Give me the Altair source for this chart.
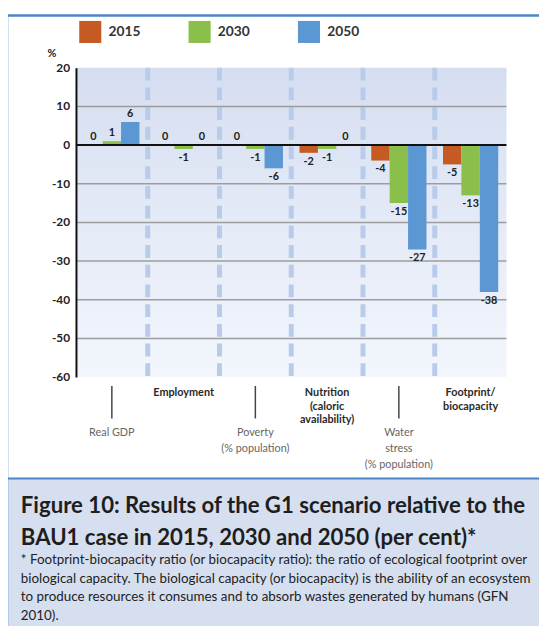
import altair as alt
import pandas as pd

# ---------------- data ----------------
categories = ["Real GDP", "Employment", "Poverty", "Nutrition", "Water stress", "Footprint/biocapacity"]
category_lines = [
    ["Real GDP"],
    ["Employment"],
    ["Poverty", "(% population)"],
    ["Nutrition", "(caloric", "availability)"],
    ["Water", "stress", "(% population)"],
    ["Footprint/", "biocapacity"],
]
years = ["2015", "2030", "2050"]
values_2015 = [0, 0, 0, -2, -4, -5]
values_2030 = [1, -1, -1, -1, -15, -13]
values_2050 = [6, 0, -6, 0, -27, -38]
year_colors = ["#c55a22", "#8bbf4c", "#5b97d2"]
gridline_values = [10, -10, -20, -30, -40, -50]
y_ticks = [20, 10, 0, -10, -20, -30, -40, -50, -60]
title_lines = [
    "Figure 10: Results of the G1 scenario relative to the",
    "BAU1 case in 2015, 2030 and 2050 (per cent)*",
]
footnote_lines = [
    "* Footprint-biocapacity ratio (or biocapacity ratio): the ratio of ecological footprint over",
    "biological capacity. The biological capacity (or biocapacity) is the ability of an ecosystem",
    "to produce resources it consumes and to absorb wastes generated by humans (GFN",
    "2010).",
]

rows = []
for i, c in enumerate(categories):
    for y, vals in zip(years, [values_2015, values_2030, values_2050]):
        rows.append({"category": c, "year": y, "value": vals[i]})
df = pd.DataFrame(rows)

W, H = 437, 314
FONT = "Lato"
BORDER = "#4a86c6"

x_enc = alt.X("category:N", sort=categories,
              scale=alt.Scale(domain=categories, paddingInner=0, paddingOuter=0), axis=None)
xo_enc = alt.XOffset("year:N", sort=years,
                     scale=alt.Scale(domain=years, paddingInner=0, paddingOuter=0.45))
y_scale = alt.Scale(domain=[-60, 20], nice=False, zero=False)
y_axis = alt.Axis(values=y_ticks, grid=False, ticks=False, domain=True, domainColor="#111111",
                  domainWidth=2, labels=False,
                  title="%", titleAngle=0,
                  titleX=-25, titleY=-14, titleAlign="center", titleBaseline="middle",
                  titleFontSize=11, titleFontWeight="bold", titleColor="#222222",
                  titleFont=FONT, zindex=1)
y_enc = alt.Y("value:Q", scale=y_scale, axis=y_axis)

empty = alt.Data(values=[{}])

gradient = alt.LinearGradient(
    gradient="linear", x1=0, y1=0, x2=0, y2=1,
    stops=[alt.GradientStop(offset=0, color="#d5def1"),
           alt.GradientStop(offset=1, color="#f3f6fc")],
)
bg = alt.Chart(empty).mark_rect(fill=gradient).encode(
    x=alt.value(0), x2=alt.value(W), y=alt.value(0), y2=alt.value(H))

sep_data = alt.Data(values=[{"category": c} for c in categories[1:]])
separators = alt.Chart(sep_data).mark_rule(
    color="#b8cbea", strokeWidth=5, strokeDash=[13, 7]).encode(
    x=alt.X("category:N", sort=categories, bandPosition=0,
            scale=alt.Scale(domain=categories, paddingInner=0, paddingOuter=0), axis=None),
    y=alt.value(0), y2=alt.value(H))

grid_data = alt.Data(values=[{"value": v} for v in gridline_values])
grid = alt.Chart(grid_data).mark_rule(color="#9d9d9d", strokeWidth=1.5).encode(
    y=y_enc, x=alt.value(0), x2=alt.value(W))

bars = alt.Chart(df).mark_bar().encode(
    x=x_enc, xOffset=xo_enc, y=y_enc, y2=alt.datum(0),
    color=alt.Color("year:N", sort=years,
                    scale=alt.Scale(domain=years, range=year_colors),
                    legend=alt.Legend(orient="none", legendX=3, legendY=-48, direction="horizontal",
                                      title=None, symbolType="square", symbolSize=500,
                                      symbolStrokeWidth=0, symbolOpacity=1,
                                      labelFontSize=14, labelFont=FONT, labelFontWeight="bold",
                                      labelColor="#333333", labelOffset=7, columnPadding=48,
                                      padding=0)),
)

zero_line = alt.Chart(alt.Data(values=[{"value": 0}])).mark_rule(
    color="#111111", strokeWidth=2).encode(
    y=y_enc, x=alt.value(0), x2=alt.value(W))

tick_labels = alt.Chart(alt.Data(values=[{"value": v} for v in y_ticks])).transform_calculate(
    lab="toString(datum.value)").mark_text(
    align="right", baseline="middle", dx=-6, fontSize=12, font=FONT, fontWeight="bold",
    color="#222222").encode(
    y=y_enc, x=alt.value(0), text=alt.Text("lab:N"))

lab_pos = alt.Chart(df).transform_filter("datum.value >= 0").transform_calculate(
    lab="toString(datum.value)").mark_text(
    baseline="bottom", dy=-3, fontSize=11, font=FONT, fontWeight="bold", color="#222222").encode(
    x=x_enc, xOffset=xo_enc, y=y_enc, text=alt.Text("lab:N"))
lab_neg = alt.Chart(df).transform_filter("datum.value < 0").transform_calculate(
    lab="toString(datum.value)").mark_text(
    baseline="top", dy=3, fontSize=11, font=FONT, fontWeight="bold", color="#222222").encode(
    x=x_enc, xOffset=xo_enc, y=y_enc, text=alt.Text("lab:N"))

upper = alt.Data(values=[{"category": categories[i], "lines": category_lines[i]} for i in (1, 3, 5)])
lower = alt.Data(values=[{"category": categories[i], "lines": category_lines[i]} for i in (0, 2, 4)])

upper_text = alt.Chart(upper).mark_text(
    baseline="top", fontSize=11, font=FONT, fontWeight="bold", color="#2a2a2a", lineHeight=14).encode(
    x=x_enc, y=alt.value(324), text=alt.Text("lines:N"))
lower_text = alt.Chart(lower).mark_text(
    baseline="top", fontSize=11, font=FONT, color="#666666", lineHeight=16).encode(
    x=x_enc, y=alt.value(365), text=alt.Text("lines:N"))
lower_ticks = alt.Chart(lower).mark_rule(color="#444444", strokeWidth=1.5).encode(
    x=x_enc, y=alt.value(323), y2=alt.value(356))

caption_bg = alt.Chart(empty).mark_rect(fill="#d6dff0", stroke=BORDER, strokeWidth=2).encode(
    x=alt.value(-70), x2=alt.value(490), y=alt.value(417), y2=alt.value(600))
border = alt.Chart(empty).mark_rect(fillOpacity=0, stroke=BORDER, strokeWidth=2.5).encode(
    x=alt.value(-70), x2=alt.value(490), y=alt.value(-53), y2=alt.value(600))

title_text = alt.Chart(alt.Data(values=[{"t": title_lines}])).mark_text(
    align="left", baseline="alphabetic", fontSize=22.5, font=FONT, fontWeight="bold",
    color="#1e1e1e", lineHeight=32).encode(
    x=alt.value(-56), y=alt.value(452), text=alt.Text("t:N"))
foot_text = alt.Chart(alt.Data(values=[{"t": footnote_lines}])).mark_text(
    align="left", baseline="alphabetic", fontSize=13.6, font=FONT, color="#222222",
    lineHeight=18.7).encode(
    x=alt.value(-56), y=alt.value(504), text=alt.Text("t:N"))

chart = alt.layer(
    bg, separators, grid, bars, zero_line, tick_labels, lab_pos, lab_neg,
    upper_text, lower_ticks, lower_text,
    caption_bg, border, title_text, foot_text,
).properties(
    width=W, height=H,
    autosize=alt.AutoSizeParams(type="none"),
    padding={"left": 69, "top": 56, "right": 33, "bottom": 248},
    background="white",
).configure(font=FONT).configure_view(stroke=None)

chart.save("out.html", embed_options={"renderer": "svg", "actions": False})
